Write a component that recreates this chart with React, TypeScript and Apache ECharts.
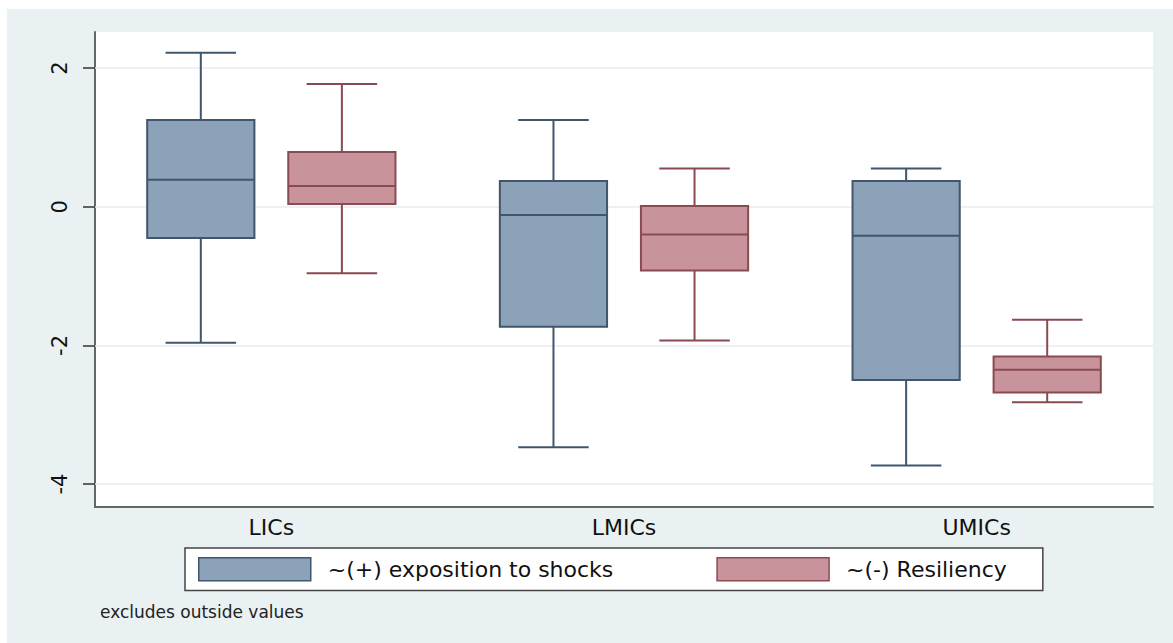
import { useEffect, useRef } from "react";
import * as echarts from "echarts";

const categories = ["LICs", "LMICs", "UMICs"];
const seriesNames = ["~(+) exposition to shocks", "~(-) Resiliency"];
// [lower adjacent value, Q1, median, Q3, upper adjacent value]
const exposition = [
  [-1.96, -0.45, 0.39, 1.25, 2.22],
  [-3.47, -1.73, -0.12, 0.37, 1.25],
  [-3.73, -2.5, -0.42, 0.37, 0.55],
];
const resiliency = [
  [-0.96, 0.04, 0.3, 0.79, 1.77],
  [-1.93, -0.92, -0.4, 0.01, 0.55],
  [-2.82, -2.68, -2.35, -2.16, -1.63],
];
const yTicks = [-4, -2, 0, 2];
const yMin = -4.33;
const yMax = 2.52;
const note = "excludes outside values";

const FONT = "DejaVu Sans";
const BLUE_FILL = "#8BA2B8";
const BLUE_LINE = "#3F566C";
const RED_FILL = "#C8939A";
const RED_LINE = "#8A4A52";

function makeRender(offset: number, fill: string, stroke: string) {
  return (params: any, api: any) => {
    const cat = api.value(0);
    const band = api.size([1, 0])[0];
    const cx = api.coord([cat, 0])[0] + offset * band;
    const half = band * 0.152;
    const cap = band * 0.1;
    const y = (i: number) => api.coord([cat, api.value(i)])[1];
    const yLo = y(1);
    const yQ1 = y(2);
    const yMed = y(3);
    const yQ3 = y(4);
    const yHi = y(5);
    const ls = { stroke, lineWidth: 2 };
    return {
      type: "group",
      children: [
        { type: "line", shape: { x1: cx, y1: yQ3, x2: cx, y2: yHi }, style: ls },
        { type: "line", shape: { x1: cx - cap, y1: yHi, x2: cx + cap, y2: yHi }, style: ls },
        { type: "line", shape: { x1: cx, y1: yQ1, x2: cx, y2: yLo }, style: ls },
        { type: "line", shape: { x1: cx - cap, y1: yLo, x2: cx + cap, y2: yLo }, style: ls },
        {
          type: "rect",
          shape: { x: cx - half, y: yQ3, width: 2 * half, height: yQ1 - yQ3 },
          style: { fill, stroke, lineWidth: 2 },
        },
        { type: "line", shape: { x1: cx - half, y1: yMed, x2: cx + half, y2: yMed }, style: ls },
      ],
    };
  };
}

export default function App() {
  const ref = useRef<HTMLDivElement>(null);
  useEffect(() => {
    if (!ref.current) return;
    const chart = echarts.init(ref.current, undefined, { renderer: "svg" });
    chart.setOption({
      animation: false,
      backgroundColor: "#EAF1F3",
      textStyle: { fontFamily: FONT },
      grid: {
        left: 88,
        right: 20,
        top: 23,
        bottom: 136,
        show: true,
        backgroundColor: "#ffffff",
        borderWidth: 0,
      },
      xAxis: {
        type: "category",
        data: categories,
        boundaryGap: true,
        axisLine: { onZero: false, lineStyle: { color: "#666", width: 2 } },
        axisTick: { show: false },
        axisLabel: { fontSize: 22, color: "#111", margin: 9, fontFamily: FONT },
        splitLine: { show: false },
      },
      yAxis: {
        type: "value",
        min: yMin,
        max: yMax,
        axisLine: { show: true, lineStyle: { color: "#666", width: 2 } },
        axisTick: {
          show: true,
          length: 12,
          customValues: yTicks,
          lineStyle: { color: "#333", width: 1.5 },
        },
        axisLabel: {
          customValues: yTicks,
          rotate: 90,
          fontSize: 21,
          margin: 25,
          color: "#111",
          fontFamily: FONT,
        },
        splitLine: { show: false },
      },
      legend: {
        left: 178,
        top: 539,
        padding: [9, 36, 9, 13],
        backgroundColor: "#ffffff",
        borderColor: "#444",
        borderWidth: 1.5,
        borderRadius: 0,
        itemWidth: 112,
        itemHeight: 23,
        itemGap: 103,
        selectedMode: false,
        textStyle: { fontFamily: FONT, fontSize: 22, color: "#111", padding: [0, 0, 0, 12] },
        data: [
          {
            name: seriesNames[0],
            icon: "rect",
            itemStyle: { color: BLUE_FILL, borderColor: BLUE_LINE, borderWidth: 1.5 },
          },
          {
            name: seriesNames[1],
            icon: "rect",
            itemStyle: { color: RED_FILL, borderColor: RED_LINE, borderWidth: 1.5 },
          },
        ],
      },
      graphic: [
        {
          type: "text",
          left: 93,
          top: 594,
          style: { text: note, fontSize: 17, fill: "#222", fontFamily: FONT },
        },
      ],
      series: [
        {
          type: "custom",
          name: seriesNames[0],
          itemStyle: { color: BLUE_FILL, borderColor: BLUE_LINE },
          renderItem: makeRender(-0.2, BLUE_FILL, BLUE_LINE),
          encode: { x: 0, y: [1, 2, 3, 4, 5] },
          data: exposition.map((d, i) => [i, ...d]),
          z: 3,
          markLine: {
            silent: true,
            z: 1,
            symbol: "none",
            label: { show: false },
            lineStyle: { color: "#E6EDF0", width: 1.5, type: "solid" },
            data: yTicks.map((v) => ({ yAxis: v })),
          },
        },
        {
          type: "custom",
          name: seriesNames[1],
          itemStyle: { color: RED_FILL, borderColor: RED_LINE },
          renderItem: makeRender(0.2, RED_FILL, RED_LINE),
          encode: { x: 0, y: [1, 2, 3, 4, 5] },
          data: resiliency.map((d, i) => [i, ...d]),
          z: 3,
        },
      ],
    });
    return () => chart.dispose();
  }, []);
  return (
    <div style={{ position: "fixed", left: 0, top: 0, width: 1173, height: 643, background: "#ffffff" }}>
      <div ref={ref} style={{ position: "absolute", left: 7, top: 9, width: 1166, height: 634 }} />
    </div>
  );
}
